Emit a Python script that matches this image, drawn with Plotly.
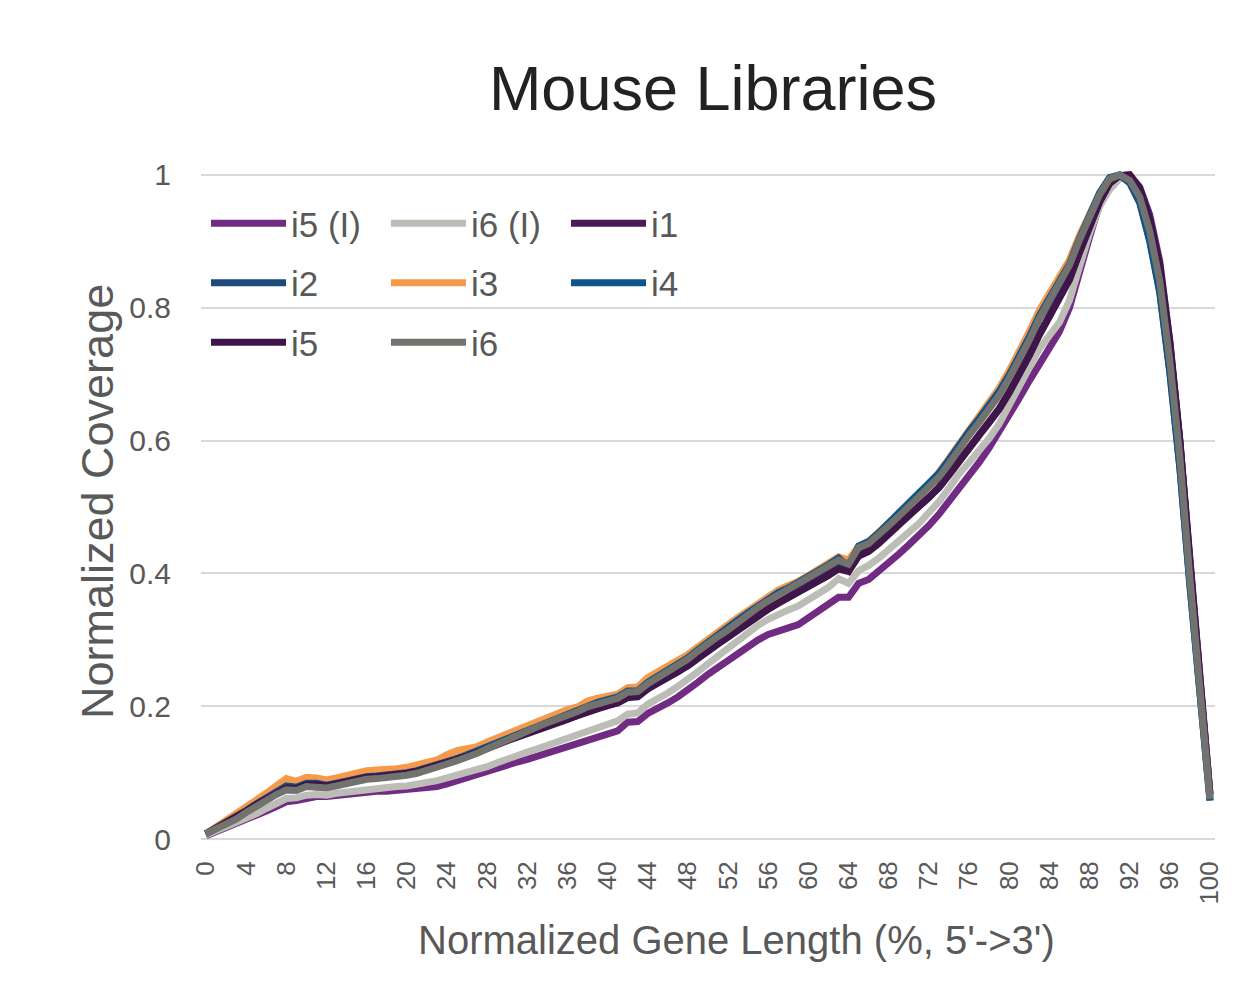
import plotly.graph_objects as go

x_pct = list(range(0, 101))
x_ticks = list(range(0, 101, 4))
y_ticks = [0, 0.2, 0.4, 0.6, 0.8, 1.0]
y_tick_text = ["0", "0.2", "0.4", "0.6", "0.8", "1"]

i5_l = [0.005, 0.011, 0.017, 0.022, 0.028, 0.035, 0.042, 0.049, 0.056, 0.058,
        0.062, 0.064, 0.064, 0.066, 0.068, 0.070, 0.071, 0.072, 0.072, 0.073,
        0.074, 0.075, 0.077, 0.079, 0.083, 0.088, 0.093, 0.097, 0.101, 0.106,
        0.111, 0.116, 0.120, 0.125, 0.130, 0.134, 0.138, 0.143, 0.149, 0.153,
        0.158, 0.163, 0.176, 0.177, 0.189, 0.196, 0.205, 0.214, 0.224, 0.236,
        0.248, 0.259, 0.270, 0.281, 0.291, 0.300, 0.308, 0.314, 0.318, 0.323,
        0.333, 0.342, 0.352, 0.364, 0.364, 0.385, 0.391, 0.403, 0.416, 0.429,
        0.443, 0.457, 0.472, 0.489, 0.508, 0.527, 0.547, 0.567, 0.589, 0.613,
        0.638, 0.664, 0.690, 0.716, 0.740, 0.764, 0.800, 0.855, 0.906, 0.955,
        0.980, 0.995, 1.000, 0.982, 0.940, 0.870, 0.750, 0.600, 0.420, 0.245,
        0.068]

i6_l = [0.006, 0.012, 0.018, 0.024, 0.031, 0.038, 0.046, 0.054, 0.061, 0.062,
        0.066, 0.067, 0.066, 0.069, 0.071, 0.073, 0.075, 0.076, 0.077, 0.079,
        0.080, 0.082, 0.085, 0.088, 0.092, 0.096, 0.100, 0.104, 0.109, 0.115,
        0.121, 0.126, 0.131, 0.136, 0.141, 0.146, 0.151, 0.157, 0.163, 0.168,
        0.173, 0.178, 0.188, 0.190, 0.203, 0.211, 0.220, 0.230, 0.240, 0.252,
        0.264, 0.276, 0.288, 0.300, 0.311, 0.322, 0.331, 0.339, 0.345, 0.351,
        0.360, 0.369, 0.379, 0.392, 0.385, 0.404, 0.412, 0.423, 0.435, 0.448,
        0.462, 0.475, 0.490, 0.508, 0.528, 0.550, 0.567, 0.584, 0.603, 0.625,
        0.652, 0.680, 0.709, 0.738, 0.758, 0.778, 0.811, 0.862, 0.912, 0.952,
        0.978, 0.994, 0.998, 0.972, 0.922, 0.848, 0.730, 0.585, 0.400, 0.228,
        0.062]

i1 = [0.008, 0.017, 0.025, 0.033, 0.043, 0.053, 0.063, 0.072, 0.079, 0.078,
      0.084, 0.084, 0.082, 0.085, 0.089, 0.092, 0.095, 0.096, 0.096, 0.098,
      0.100, 0.103, 0.107, 0.111, 0.116, 0.121, 0.126, 0.131, 0.137, 0.143,
      0.149, 0.155, 0.160, 0.165, 0.171, 0.176, 0.181, 0.187, 0.193, 0.198,
      0.202, 0.206, 0.214, 0.215, 0.227, 0.235, 0.243, 0.252, 0.262, 0.273,
      0.285, 0.295, 0.305, 0.316, 0.326, 0.337, 0.347, 0.356, 0.364, 0.372,
      0.381, 0.389, 0.398, 0.408, 0.404, 0.427, 0.434, 0.446, 0.460, 0.474,
      0.487, 0.500, 0.514, 0.530, 0.549, 0.570, 0.590, 0.609, 0.628, 0.648,
      0.673, 0.699, 0.729, 0.760, 0.787, 0.813, 0.843, 0.884, 0.923, 0.960,
      0.988, 0.999, 1.000, 0.978, 0.930, 0.860, 0.745, 0.598, 0.415, 0.240,
      0.066]

i2 = [0.008, 0.016, 0.024, 0.032, 0.042, 0.052, 0.062, 0.071, 0.078, 0.077,
      0.083, 0.083, 0.080, 0.083, 0.087, 0.090, 0.093, 0.094, 0.095, 0.097,
      0.099, 0.102, 0.106, 0.110, 0.115, 0.120, 0.126, 0.132, 0.138, 0.145,
      0.152, 0.158, 0.164, 0.170, 0.176, 0.181, 0.186, 0.193, 0.200, 0.205,
      0.209, 0.213, 0.221, 0.221, 0.235, 0.244, 0.252, 0.262, 0.272, 0.284,
      0.296, 0.306, 0.317, 0.329, 0.340, 0.351, 0.361, 0.369, 0.376, 0.383,
      0.393, 0.401, 0.411, 0.419, 0.405, 0.437, 0.446, 0.459, 0.474, 0.489,
      0.503, 0.517, 0.531, 0.549, 0.569, 0.592, 0.612, 0.631, 0.651, 0.671,
      0.696, 0.722, 0.752, 0.783, 0.808, 0.832, 0.860, 0.898, 0.935, 0.970,
      0.995, 1.000, 0.988, 0.958, 0.900, 0.822, 0.702, 0.558, 0.382, 0.214,
      0.058]

i3 = [0.008, 0.018, 0.027, 0.036, 0.047, 0.058, 0.069, 0.080, 0.091, 0.087,
      0.093, 0.092, 0.089, 0.092, 0.096, 0.099, 0.103, 0.104, 0.104, 0.106,
      0.108, 0.111, 0.115, 0.119, 0.127, 0.133, 0.136, 0.139, 0.146, 0.152,
      0.159, 0.165, 0.170, 0.177, 0.184, 0.190, 0.195, 0.199, 0.208, 0.212,
      0.215, 0.218, 0.228, 0.229, 0.243, 0.251, 0.259, 0.269, 0.278, 0.290,
      0.302, 0.313, 0.323, 0.334, 0.345, 0.356, 0.366, 0.375, 0.382, 0.388,
      0.397, 0.406, 0.415, 0.425, 0.420, 0.441, 0.448, 0.461, 0.476, 0.491,
      0.505, 0.519, 0.534, 0.552, 0.573, 0.596, 0.616, 0.636, 0.657, 0.679,
      0.705, 0.733, 0.764, 0.796, 0.822, 0.846, 0.872, 0.909, 0.942, 0.972,
      0.993, 0.998, 1.000, 0.972, 0.918, 0.842, 0.722, 0.578, 0.396, 0.225,
      0.062]

i4 = [0.008, 0.016, 0.025, 0.033, 0.043, 0.053, 0.063, 0.072, 0.080, 0.078,
      0.084, 0.084, 0.081, 0.084, 0.088, 0.091, 0.094, 0.095, 0.096, 0.098,
      0.100, 0.103, 0.107, 0.111, 0.116, 0.121, 0.127, 0.133, 0.139, 0.146,
      0.153, 0.159, 0.165, 0.171, 0.177, 0.182, 0.187, 0.194, 0.201, 0.206,
      0.210, 0.214, 0.223, 0.223, 0.236, 0.245, 0.253, 0.263, 0.273, 0.285,
      0.297, 0.307, 0.318, 0.330, 0.341, 0.352, 0.362, 0.371, 0.378, 0.386,
      0.395, 0.403, 0.413, 0.423, 0.410, 0.441, 0.448, 0.461, 0.476, 0.491,
      0.505, 0.519, 0.533, 0.551, 0.571, 0.594, 0.614, 0.633, 0.653, 0.674,
      0.699, 0.726, 0.756, 0.788, 0.814, 0.838, 0.866, 0.904, 0.940, 0.973,
      0.996, 1.000, 0.990, 0.960, 0.902, 0.825, 0.705, 0.560, 0.384, 0.216,
      0.058]

i5 = [0.008, 0.016, 0.024, 0.032, 0.042, 0.052, 0.061, 0.070, 0.077, 0.076,
      0.082, 0.082, 0.080, 0.083, 0.087, 0.090, 0.093, 0.094, 0.095, 0.097,
      0.099, 0.102, 0.106, 0.110, 0.115, 0.120, 0.125, 0.130, 0.136, 0.142,
      0.148, 0.153, 0.159, 0.164, 0.170, 0.175, 0.180, 0.186, 0.192, 0.197,
      0.201, 0.205, 0.213, 0.214, 0.226, 0.234, 0.242, 0.251, 0.261, 0.272,
      0.284, 0.294, 0.304, 0.315, 0.325, 0.336, 0.346, 0.355, 0.363, 0.371,
      0.380, 0.388, 0.397, 0.407, 0.403, 0.426, 0.433, 0.445, 0.459, 0.473,
      0.486, 0.499, 0.513, 0.529, 0.548, 0.569, 0.589, 0.608, 0.627, 0.647,
      0.672, 0.698, 0.728, 0.759, 0.786, 0.812, 0.842, 0.883, 0.922, 0.959,
      0.987, 0.999, 1.000, 0.980, 0.934, 0.864, 0.748, 0.600, 0.418, 0.242,
      0.067]

i6 = [0.008, 0.015, 0.023, 0.030, 0.040, 0.050, 0.059, 0.067, 0.074, 0.073,
      0.079, 0.079, 0.077, 0.080, 0.084, 0.087, 0.090, 0.091, 0.092, 0.094,
      0.096, 0.099, 0.103, 0.107, 0.113, 0.118, 0.123, 0.129, 0.136, 0.143,
      0.150, 0.156, 0.163, 0.169, 0.175, 0.180, 0.185, 0.192, 0.199, 0.204,
      0.208, 0.212, 0.221, 0.222, 0.234, 0.243, 0.251, 0.261, 0.271, 0.283,
      0.295, 0.305, 0.315, 0.327, 0.338, 0.349, 0.359, 0.368, 0.376, 0.384,
      0.393, 0.401, 0.410, 0.420, 0.414, 0.439, 0.445, 0.457, 0.472, 0.486,
      0.500, 0.514, 0.528, 0.545, 0.565, 0.588, 0.608, 0.627, 0.647, 0.668,
      0.694, 0.720, 0.751, 0.784, 0.811, 0.836, 0.864, 0.902, 0.937, 0.970,
      0.994, 1.000, 0.992, 0.967, 0.915, 0.840, 0.720, 0.575, 0.393, 0.222,
      0.060]

series_names = ["i5 (I)", "i6 (I)", "i1", "i2", "i3", "i4", "i5", "i6"]
series_values = [i5_l, i6_l, i1, i2, i3, i4, i5, i6]
series_colors = ["#722B82", "#BDBDB8", "#4A1A55", "#1F4A7E",
                 "#F7994A", "#0E5589", "#3E1649", "#72736E"]
series_legend = ["legend", "legend2", "legend3", "legend",
                 "legend2", "legend3", "legend", "legend2"]

FONT = "Liberation Sans, Arial, sans-serif"
TXT = "#595959"

fig = go.Figure()
for name, vals, col, lg in zip(series_names, series_values, series_colors, series_legend):
    fig.add_trace(go.Scatter(
        x=x_pct, y=vals, mode="lines", name=name,
        line=dict(color=col, width=7),
        legend=lg, legendgroup=name,
    ))

# page body has an 8px margin; work in reference pixels shifted by OFF
OFF = 8
W, H = 1245 - OFF, 996 - OFF
plot_l, plot_r, plot_t, plot_b = 201 - OFF, 1215 - OFF, 165 - OFF, 849 - OFF
L, R, T, B = plot_l, W - plot_r, plot_t, H - plot_b
pw, ph = plot_r - plot_l, plot_b - plot_t


def px(xref_pix):
    return (xref_pix - OFF - plot_l) / pw


def py(yref_pix):
    return (plot_b - (yref_pix - OFF)) / ph


leg_common = dict(
    orientation="v", xanchor="left", yanchor="top",
    font=dict(family=FONT, size=35, color=TXT),
    bgcolor="rgba(0,0,0,0)", itemwidth=75, tracegroupgap=11,
    itemclick=False,
)

fig.update_layout(
    width=W, height=H,
    margin=dict(l=L, r=R, t=T, b=B, autoexpand=False),
    paper_bgcolor="white", plot_bgcolor="white",
    font=dict(family=FONT, color=TXT),
    title=dict(text="Mouse Libraries", x=(713 - OFF) / W, xref="container",
               xanchor="center", y=1 - (88 - OFF) / H, yref="container",
               yanchor="middle",
               font=dict(family=FONT, size=63, color="#222222")),
    legend=dict(x=px(206), y=py(194), **leg_common),
    legend2=dict(x=px(386), y=py(194), **leg_common),
    legend3=dict(x=px(566), y=py(194), **leg_common),
    xaxis=dict(range=[-0.5, 100.5], tickmode="array", tickvals=x_ticks,
               ticktext=[str(v) for v in x_ticks], tickangle=-90,
               tickfont=dict(family=FONT, size=26, color=TXT),
               showgrid=False, zeroline=False, showline=False, ticks="",
               ticklabelstandoff=6),
    yaxis=dict(range=[-0.015, 1.015], tickmode="array", tickvals=y_ticks,
               ticktext=y_tick_text,
               tickfont=dict(family=FONT, size=30, color=TXT),
               showgrid=True, gridcolor="#D9D9D9", gridwidth=2,
               zeroline=False, showline=False, ticks="",
               ticklabelstandoff=29),
    annotations=[
        dict(text="Normalized Gene Length (%, 5'->3')", xref="paper", yref="paper",
             x=px(736), y=py(940), xanchor="center", yanchor="middle",
             showarrow=False, font=dict(family=FONT, size=40, color=TXT)),
        dict(text="Normalized Coverage", xref="paper", yref="paper",
             x=px(97), y=py(502), xanchor="center", yanchor="middle",
             textangle=-90, showarrow=False,
             font=dict(family=FONT, size=45, color=TXT)),
    ],
)

fig.write_html("out.html")
